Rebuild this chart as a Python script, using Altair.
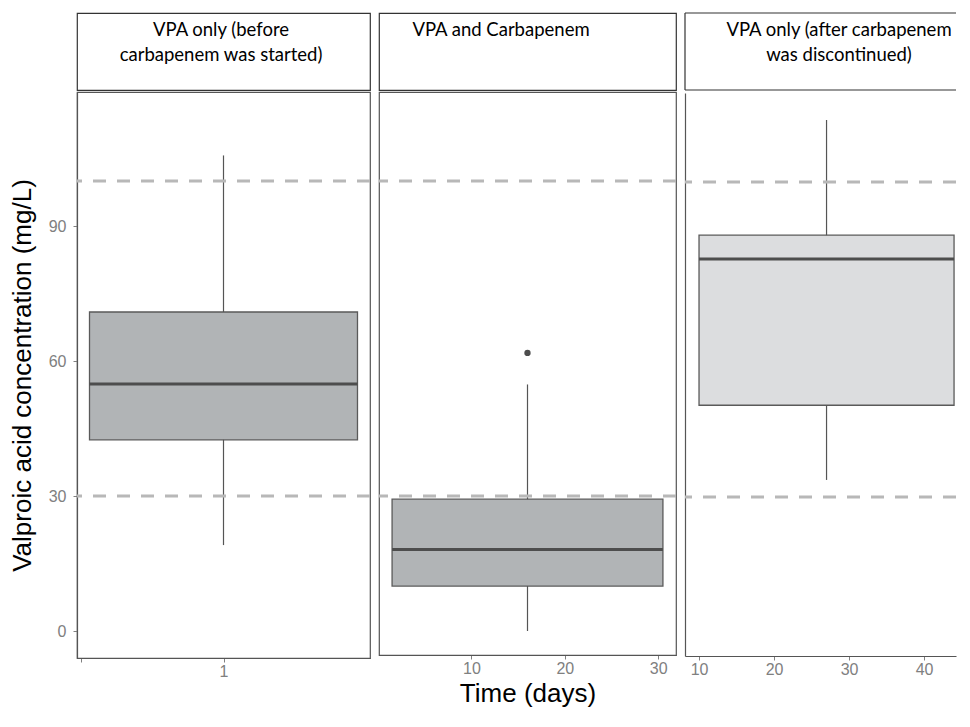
import altair as alt
import pandas as pd

# ---- data ----
panel_titles = [
    "VPA only (before\ncarbapenem was started)",
    "VPA and Carbapenem",
    "VPA only (after carbapenem\nwas discontinued)",
]
box_center = [1.0, 16.0, 27.0]
box_left = [0.625, 1.5, 10.0]
box_right = [1.375, 30.5, 44.0]
whisker_low = [19.1, 0.0, 33.8]
q1 = [42.5, 10.0, 50.4]
median = [54.9, 18.1, 82.9]
q3 = [70.9, 29.3, 88.2]
whisker_high = [105.7, 54.8, 113.8]
box_fill = ["#b1b4b6", "#b1b4b6", "#dcdddf"]
outlier_panel = [1]
outlier_x = [16.0]
outlier_y = [61.8]
ref_levels = [30, 100]
y_tick_values = [0, 30, 60, 90]
x_tick_values = [[0.6, 1], [10, 20, 30], [10, 20, 30, 40]]

# ---- layout / style ----
x_domains = [[0.59, 1.41], [0.1, 31.9], [8.13, 44.26]]
y_domains = [[-6.0, 119.8], [-5.33, 119.8], [-5.33, 119.8]]
plot_w = [293, 297, 271]
plot_h = [566, 563, 563]
header_h = 77
header_text_x = [144, 122, 154]

AX_FONT = "Liberation Sans, Arial, sans-serif"
HD_FONT = "Lato, Open Sans, sans-serif"
GREY = "#808080"
LINE = "#555555"

boxes = pd.DataFrame({
    "center": box_center, "left": box_left, "right": box_right,
    "lo": whisker_low, "q1": q1, "med": median, "q3": q3, "hi": whisker_high,
    "fill": box_fill,
})
outliers = pd.DataFrame({"panel": outlier_panel, "x": outlier_x, "y": outlier_y})
refs = pd.DataFrame({"level": ref_levels})


def make_panel(i):
    d = boxes.iloc[[i]]
    xs = alt.Scale(domain=x_domains[i], nice=False, zero=False)
    ys = alt.Scale(domain=y_domains[i], nice=False, zero=False)

    common_x = dict(
        values=x_tick_values[i], grid=False,
        labelFont=AX_FONT, labelFontSize=16, labelColor=GREY, labelPadding=1,
        tickSize=4, tickColor=GREY, domainColor=LINE, domainWidth=1.2,
    )
    if i == 0:
        xaxis = alt.Axis(title=None, labelExpr="datum.value == 1 ? '1' : ''", **common_x)
        yaxis = alt.Axis(
            values=y_tick_values, grid=False,
            title="Valproic acid concentration (mg/L)",
            titleFont=AX_FONT, titleFontSize=26, titleFontWeight="normal",
            titleColor="black", titlePadding=13,
            labelFont=AX_FONT, labelFontSize=16, labelColor=GREY, labelPadding=7,
            tickSize=4, tickColor=GREY, domainColor=LINE, domainWidth=1.2,
        )
    elif i == 1:
        xaxis = alt.Axis(
            title="Time (days)", titleFont=AX_FONT, titleFontSize=26,
            titleFontWeight="normal", titleColor="black", titlePadding=4,
            **common_x,
        )
        yaxis = None
    else:
        xaxis = alt.Axis(title=None, **common_x)
        yaxis = alt.Axis(title=None, labels=False, ticks=False, grid=False,
                         domainColor=LINE, domainWidth=1.2)

    base = alt.Chart(d)
    box = base.mark_rect(stroke="#5a5a5a", strokeWidth=1.3).encode(
        x=alt.X("left:Q", scale=xs, axis=xaxis),
        x2="right:Q",
        y=alt.Y("q1:Q", scale=ys, axis=yaxis),
        y2="q3:Q",
        fill=alt.Fill("fill:N", scale=None),
    )
    w_low = base.mark_rule(color=LINE, strokeWidth=1.2).encode(
        x="center:Q", y="lo:Q", y2="q1:Q")
    w_high = base.mark_rule(color=LINE, strokeWidth=1.2).encode(
        x="center:Q", y="q3:Q", y2="hi:Q")
    med = base.mark_rule(color="#4d4d4d", strokeWidth=3).encode(
        x="left:Q", x2="right:Q", y="med:Q")
    dash = alt.Chart(refs).mark_rule(
        color="#b8b8b8", strokeWidth=3, strokeDash=[13, 11]).encode(y="level:Q")

    layers = [box, w_low, w_high, med]
    o = outliers[outliers["panel"] == i]
    if len(o):
        layers.append(alt.Chart(o).mark_circle(color="#4d4d4d", size=40, opacity=1)
                      .encode(x="x:Q", y="y:Q"))
    layers.append(dash)

    plot = alt.layer(*layers).properties(
        width=plot_w[i], height=plot_h[i],
        view=alt.ViewBackground(stroke=(LINE if i < 2 else "transparent"), strokeWidth=1.2),
    )

    hdf = pd.DataFrame({"title": [panel_titles[i]]})
    hbase = alt.Chart(hdf)
    htext = hbase.mark_text(
        font=HD_FONT, fontSize=18.5, lineBreak="\n", lineHeight=25,
        align="center", baseline="top", color="black",
    ).encode(text="title:N", x=alt.value(header_text_x[i]), y=alt.value(8))
    hlayers = [htext]
    if i == 2:
        hlayers += [
            hbase.mark_rule(color="#333333", strokeWidth=1.2).encode(
                x=alt.value(0), x2=alt.value(plot_w[i]), y=alt.value(0)),
            hbase.mark_rule(color="#333333", strokeWidth=1.2).encode(
                x=alt.value(0), y=alt.value(0), y2=alt.value(header_h)),
            hbase.mark_rule(color="#333333", strokeWidth=1.2).encode(
                x=alt.value(0), x2=alt.value(plot_w[i]), y=alt.value(header_h)),
        ]
    header = alt.layer(*hlayers).properties(
        width=plot_w[i], height=header_h,
        view=alt.ViewBackground(stroke=("#333333" if i < 2 else "transparent"), strokeWidth=1.2),
    )
    return alt.vconcat(header, plot, spacing=0)


left_pair = alt.hconcat(make_panel(0), make_panel(1), spacing=3)
chart = alt.hconcat(left_pair, make_panel(2), spacing=3).properties(
    padding={"left": 0, "top": 3, "right": 0, "bottom": 0},
    background="white",
)

chart.save("out.html", embed_options={"renderer": "svg", "actions": False})
